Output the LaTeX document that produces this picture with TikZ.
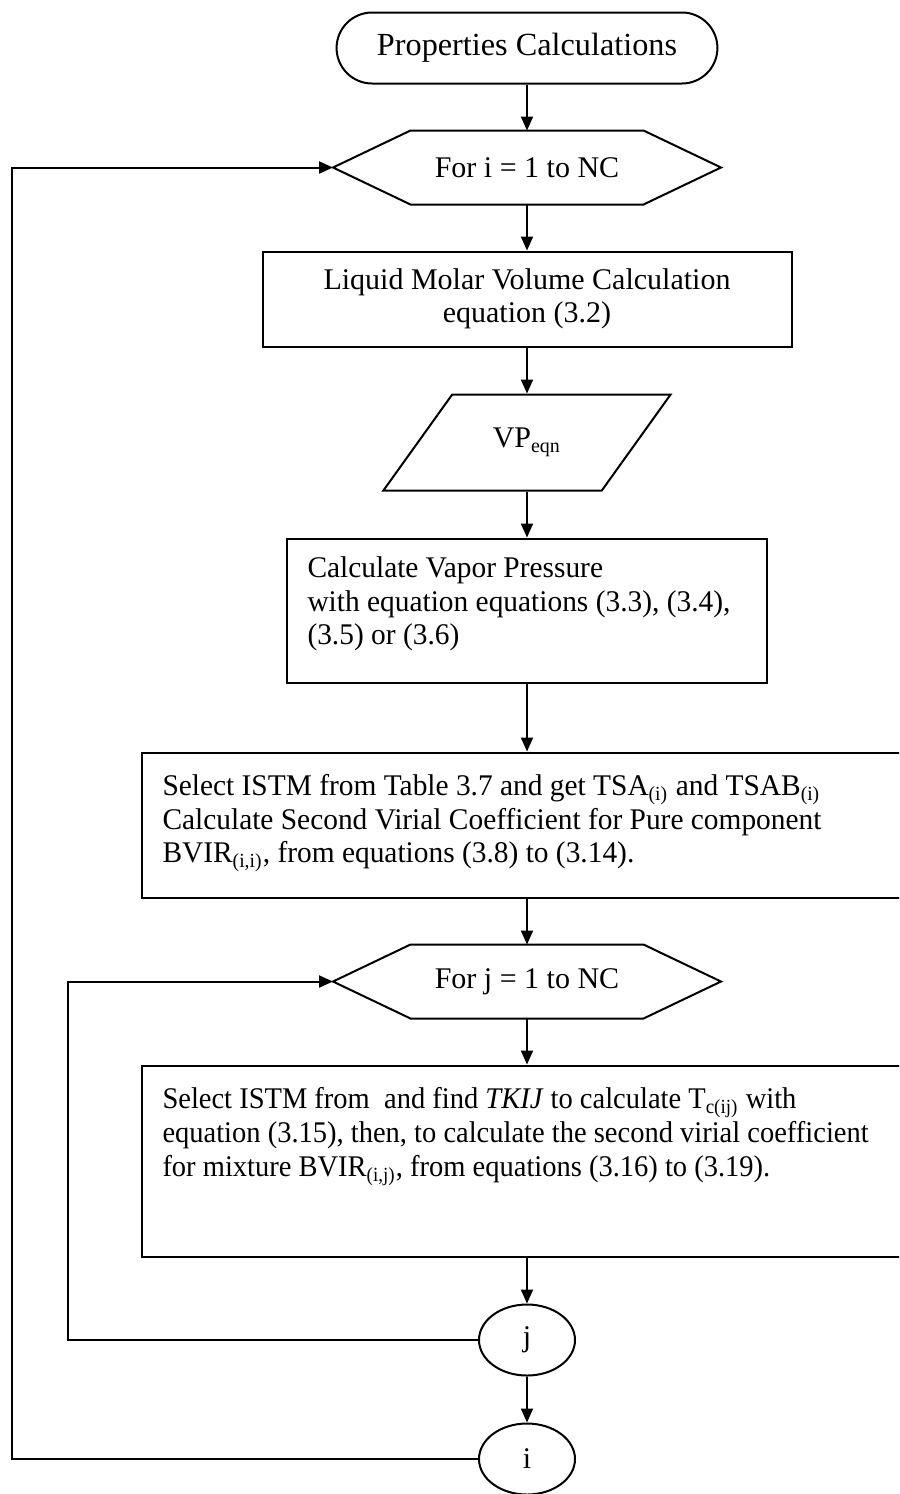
\documentclass[tikz,border=0pt]{standalone}
\usepackage{fontspec}
\setmainfont{Liberation Serif}
\newfontfamily\narrowserif[FakeStretch=0.95]{Liberation Serif}
\newfontfamily\slimserif[FakeStretch=0.98]{Liberation Serif}
\usetikzlibrary{shapes.geometric, shapes.misc, positioning, arrows.meta}

\begin{document}
\begin{tikzpicture}
  \newcommand\stepgap{18.4pt}
  \newcommand\widegap{27.2pt}
  \newcommand\hexcut{31pt}
  \newcommand\txtdown{9pt}
  \newcommand\txtin{8.4pt}

  \tikzset{fcline/.style={line width=0.8pt}}
  \tikzset{fc/.style={fcline, draw, font=\fontsize{12}{13.4}\selectfont}}
  \tikzset{fcterm/.style={fc, rounded rectangle, minimum width=159pt, minimum height=28.4pt,
      font=\fontsize{12.9}{14}\selectfont}}
  \tikzset{fcproc/.style={fc, rectangle, align=center}}
  \tikzset{fcdata/.style={fc, trapezium, trapezium left angle=49, trapezium right angle=131,
      trapezium stretches=true, minimum width=115.6pt, minimum height=38.4pt}}
  \tikzset{fcloop/.style={fc, draw=none, minimum width=92.4pt, minimum height=28.8pt}}
  \tikzset{fcend/.style={fc, ellipse, inner sep=0pt, minimum width=38.4pt, minimum height=28.4pt}}
  \tikzset{fctext/.style={inner sep=0pt, align=left, font=\slimserif\fontsize{12}{13.4}\selectfont}}
  \tikzset{ptr/.style={fcline, ->, >={Triangle[length=5.6pt, width=4.8pt]}}}

  \useasboundingbox (0,0) rectangle (359.6pt,-597.6pt);
  \clip (0,0) rectangle (359.6pt,-597.6pt);

  % main column
  \node[fcterm] at (210.8pt,-19.2pt) (start) {Properties Calculations};
  \node[fcloop, below=\stepgap of start] (hexi) {For i = 1 to NC};
  \node[fcproc, below=\stepgap of hexi, minimum width=211.6pt, minimum height=38pt] (liq)
    {Liquid Molar Volume Calculation\\equation (3.2)};
  \node[fcdata, below=\stepgap of liq] (vp) {VP\textsubscript{eqn}};
  \node[fcproc, below=\stepgap of vp, minimum width=192pt, minimum height=57.6pt] (vap) {};
  \node[fctext, below right=7.5pt and \txtin of vap.north west] (vap-t)
    {Calculate Vapor Pressure\\with equation equations (3.3), (3.4),\\(3.5) or (3.6)};
  \node[fcproc, below=\widegap of vap, minimum width=308pt, minimum height=58pt] (bvir) {};
  \node[fctext, below right=\txtdown and \txtin of bvir.north west] (bvir-t)
    {Select ISTM from Table 3.7 and get TSA\textsubscript{(i)} and TSAB\textsubscript{(i)}\\
     Calculate Second Virial Coefficient for Pure component\\
     BVIR\textsubscript{(i,i)}, from equations (3.8) to (3.14).};
  \node[fcloop, below=\stepgap of bvir] (hexj) {For j = 1 to NC};
  \node[fcproc, below=\stepgap of hexj, minimum width=308pt, minimum height=76.4pt] (mix) {};
  \node[fctext, font=\narrowserif\fontsize{12}{13.6}\selectfont,
        below right=\txtdown and \txtin of mix.north west] (mix-t)
    {Select ISTM from~ and find \textit{TKIJ} to calculate T\textsubscript{c(ij)} with\\
     equation (3.15), then, to calculate the second virial coefficient\\
     for mixture BVIR\textsubscript{(i,j)}, from equations (3.16) to (3.19).};
  \node[fcend, below=\stepgap of mix] (endj) {j};
  \node[fcend, below=\stepgap of endj] (endi) {i};

  % loop hexagons
  \foreach \h in {hexi, hexj}{
    \draw[fcline] (\h.north west) -- ([xshift=-\hexcut]\h.west) -- (\h.south west)
      -- (\h.south east) -- ([xshift=\hexcut]\h.east) -- (\h.north east) -- cycle;
  }

  % flow
  \foreach \a/\b in {start/hexi, hexi/liq, liq/vp, vp/vap, vap/bvir, bvir/hexj, hexj/mix, mix/endj, endj/endi}{
    \draw[ptr] (\a.south) -- (\b.north);
  }

  % back to loop heads
  \draw[ptr] (endj.west) -| ([xshift=-137.2pt]hexj.west) -- ([xshift=-\hexcut]hexj.west);
  \draw[ptr] (endi.west) -| ([xshift=-159.6pt]hexi.west) -- ([xshift=-\hexcut]hexi.west);
\end{tikzpicture}
\end{document}
